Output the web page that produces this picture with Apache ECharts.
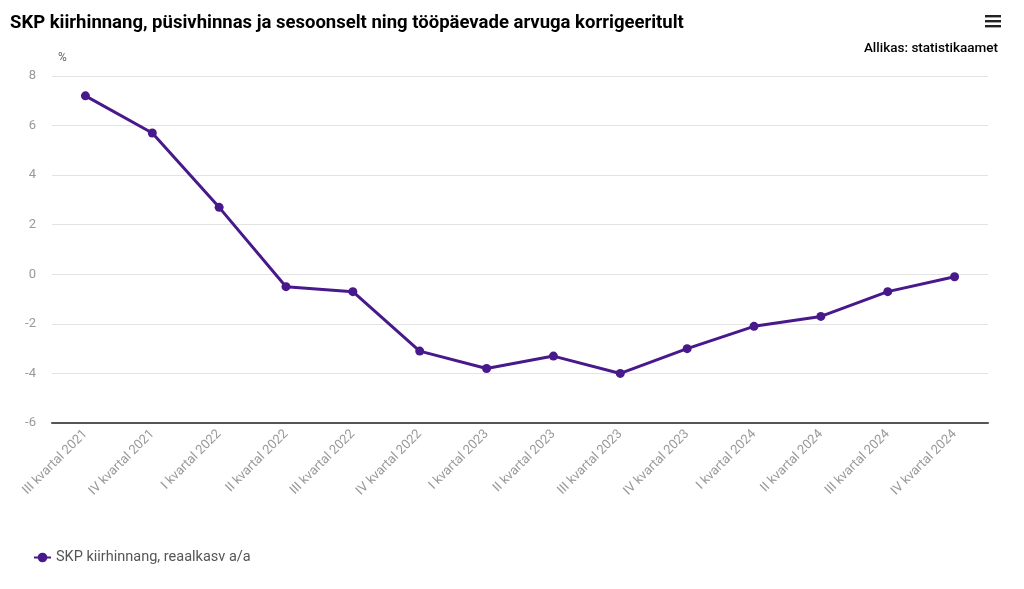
<!DOCTYPE html>
<html lang="et">
<head>
<meta charset="UTF-8">
<title>SKP kiirhinnang</title>
<script src="https://cdn.jsdelivr.net/npm/echarts@6/dist/echarts.min.js"></script>
<style>
  * { margin: 0; padding: 0; box-sizing: border-box; }
  body { background: #fff; }
  #chart { width: 1024px; height: 589px; }
</style>
</head>
<body>
<div id="chart"></div>
<script>
  // andmed
  const quarters = [
    'III kvartal 2021', 'IV kvartal 2021',
    'I kvartal 2022', 'II kvartal 2022', 'III kvartal 2022', 'IV kvartal 2022',
    'I kvartal 2023', 'II kvartal 2023', 'III kvartal 2023', 'IV kvartal 2023',
    'I kvartal 2024', 'II kvartal 2024', 'III kvartal 2024', 'IV kvartal 2024'
  ];
  const growth = [7.2, 5.7, 2.7, -0.5, -0.7, -3.1, -3.8, -3.3, -4.0, -3.0, -2.1, -1.7, -0.7, -0.1];
  const seriesName = 'SKP kiirhinnang, reaalkasv a/a';

  const lineColor = '#48198a';
  const chart = echarts.init(document.getElementById('chart'));

  chart.setOption({
    animation: false,
    title: [{
      text: 'SKP kiirhinnang, püsivhinnas ja sesoonselt ning tööpäevade arvuga korrigeeritult',
      left: 5,
      top: 9,
      textStyle: { fontFamily: 'Roboto', fontSize: 18.5, fontWeight: 'bold', color: '#000' }
    }, {
      text: 'Allikas: statistikaamet',
      right: 21,
      top: 37,
      textStyle: { fontFamily: 'Roboto', fontSize: 13.5, fontWeight: 500, color: '#000' }
    }],
    graphic: [
      { type: 'rect', shape: { x: 985, y: 15, width: 16, height: 2.4 }, style: { fill: '#222' } },
      { type: 'rect', shape: { x: 985, y: 20, width: 16, height: 2.4 }, style: { fill: '#222' } },
      { type: 'rect', shape: { x: 985, y: 25, width: 16, height: 2.4 }, style: { fill: '#222' } }
    ],
    legend: {
      left: 28,
      top: 545,
      itemWidth: 17,
      itemHeight: 12,
      textStyle: { fontFamily: 'Roboto', fontSize: 14.5, color: '#555' },
      data: [{ name: seriesName }]
    },
    grid: { left: 52, right: 36, top: 76, bottom: 166 },
    xAxis: {
      type: 'category',
      data: quarters,
      boundaryGap: true,
      axisLine: { onZero: false, lineStyle: { color: '#555', width: 2 } },
      axisTick: { show: false },
      axisLabel: {
        rotate: 45,
        interval: 0,
        margin: 9,
        fontFamily: 'Roboto',
        fontSize: 13,
        color: '#999'
      }
    },
    yAxis: {
      type: 'value',
      min: -6,
      max: 8,
      interval: 2,
      name: '%',
      nameLocation: 'end',
      nameGap: 12,
      nameTextStyle: { fontFamily: 'Roboto', fontSize: 12, color: '#666', align: 'left', padding: [0, 0, 0, 6] },
      axisLine: { show: false },
      axisTick: { show: false },
      axisLabel: { fontFamily: 'Roboto', fontSize: 13, color: '#999', margin: 16 },
      splitLine: { lineStyle: { color: '#e3e3e3', width: 1 } }
    },
    series: [{
      name: seriesName,
      type: 'line',
      data: growth,
      symbol: 'circle',
      symbolSize: 9,
      lineStyle: { color: lineColor, width: 3 },
      itemStyle: { color: lineColor }
    }]
  });
</script>
</body>
</html>
